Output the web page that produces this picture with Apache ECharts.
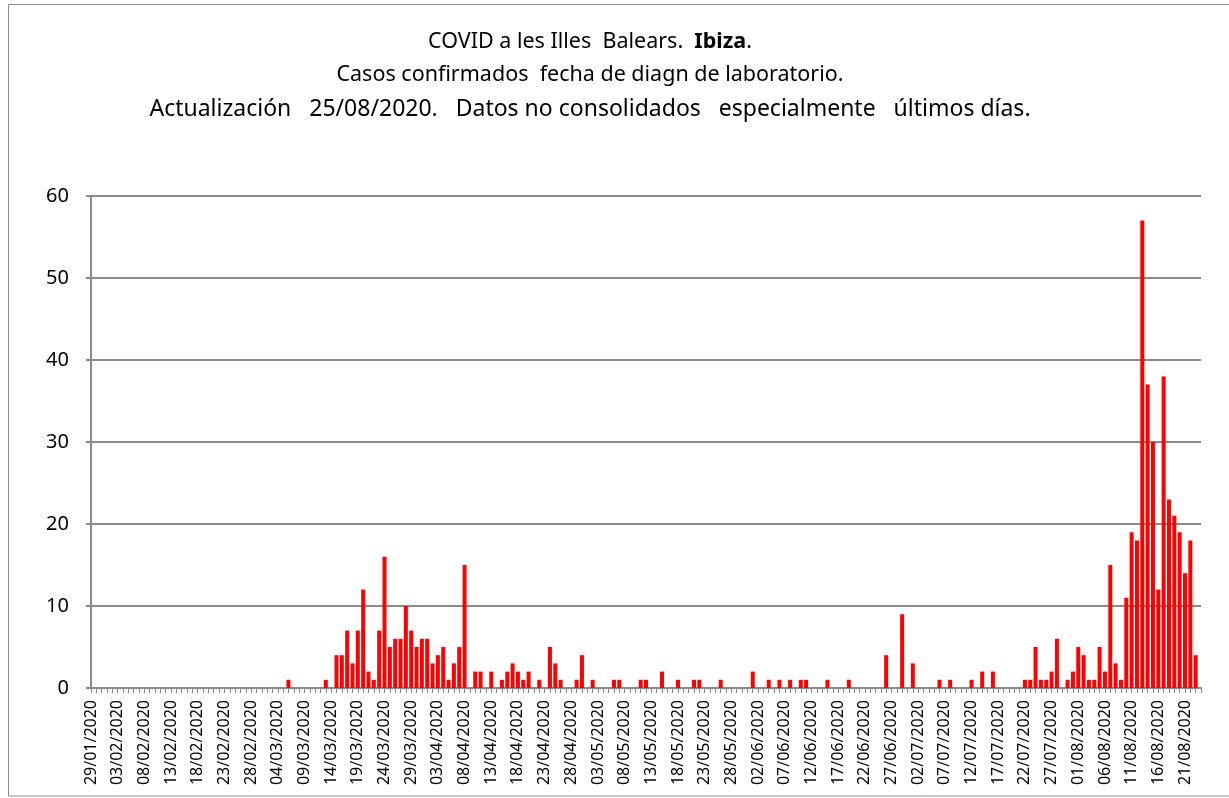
<!DOCTYPE html>
<html>
<head>
<meta charset="utf-8">
<script src="https://cdn.jsdelivr.net/npm/echarts@6/dist/echarts.min.js"></script>
<style>
html,body{margin:0;padding:0;background:#ffffff;}
#chart{width:1229px;height:798px;}
</style>
</head>
<body>
<div id="chart"></div>
<script>
// Daily confirmed cases (Ibiza)
const janCases = [0,0,0]; // 29/01 - 31/01
const febCases = [0,0,0,0,0,0,0,0,0,0, 0,0,0,0,0,0,0,0,0,0, 0,0,0,0,0,0,0,0,0];
const marCases = [0,0,0,0,0,1,0,0,0,0, 0,0,1,0,4,4,7,3,7,12, 2,1,7,16,5,6,6,10,7,5, 6];
const aprCases = [6,3,4,5,1,3,5,15,0,2, 2,0,2,0,1,2,3,2,1,2, 0,1,0,5,3,1,0,0,1,4];
const mayCases = [0,1,0,0,0,1,1,0,0,0, 1,1,0,0,2,0,0,1,0,0, 1,1,0,0,0,1,0,0,0,0, 0];
const junCases = [2,0,0,1,0,1,0,1,0,1, 1,0,0,0,1,0,0,0,1,0, 0,0,0,0,0,4,0,0,9,0];
const julCases = [3,0,0,0,0,1,0,1,0,0, 0,1,0,2,0,2,0,0,0,0, 0,1,1,5,1,1,2,6,0,1, 2];
const augCases = [5,4,1,1,5,2,15,3,1,11, 19,18,57,37,30,12,38,23,21,19, 14,18,4,0]; // 01/08 - 24/08

const monthBlocks = [
  {month: '01', firstDay: 29, cases: janCases},
  {month: '02', firstDay: 1, cases: febCases},
  {month: '03', firstDay: 1, cases: marCases},
  {month: '04', firstDay: 1, cases: aprCases},
  {month: '05', firstDay: 1, cases: mayCases},
  {month: '06', firstDay: 1, cases: junCases},
  {month: '07', firstDay: 1, cases: julCases},
  {month: '08', firstDay: 1, cases: augCases}
];

const yTicks = [0, 10, 20, 30, 40, 50, 60];

const titleLine1a = 'COVID a les Illes  Balears.  ';
const titleLine1b = 'Ibiza';
const titleLine2 = 'Casos confirmados  fecha de diagn de laboratorio.';
const titleLine3 = 'Actualización   25/08/2020.   Datos no consolidados   especialmente   últimos días.';

const dates = [];
const values = [];
monthBlocks.forEach(b => {
  b.cases.forEach((v, k) => {
    const d = b.firstDay + k;
    dates.push((d < 10 ? '0' + d : '' + d) + '/' + b.month + '/2020');
    values.push(v);
  });
});

const FONT = 'Noto Sans';
const GRAY = '#8a8a8a';

const chart = echarts.init(document.getElementById('chart'), null, {renderer: 'canvas'});
chart.setOption({
  animation: false,
  backgroundColor: '#ffffff',
  grid: {left: 91, right: 28, top: 196, bottom: 110, containLabel: false},
  graphic: [
    {type: 'rect', silent: true, z: -10,
     shape: {x: 8.5, y: 4.5, width: 1240, height: 791.5},
     style: {fill: 'none', stroke: '#8c8c8c', lineWidth: 1}},
    {type: 'text', x: 590, y: 42, silent: true,
     style: {text: '{n|' + titleLine1a + '}{b|' + titleLine1b + '}{n|.}',
             align: 'center', verticalAlign: 'middle',
             rich: {n: {fontFamily: FONT, fontSize: 21.5, fill: '#000', fontWeight: 'normal'},
                    b: {fontFamily: FONT, fontSize: 21.5, fill: '#000', fontWeight: 'bold'}}}},
    {type: 'text', x: 590, y: 75, silent: true,
     style: {text: titleLine2, align: 'center', verticalAlign: 'middle',
             fontFamily: FONT, fontSize: 21.5, fill: '#000'}},
    {type: 'text', x: 590, y: 109, silent: true,
     style: {text: titleLine3, align: 'center', verticalAlign: 'middle',
             fontFamily: FONT, fontSize: 23, fill: '#000'}}
  ],
  xAxis: {
    type: 'category',
    data: dates,
    boundaryGap: false,
    axisLine: {show: true, lineStyle: {color: GRAY, width: 2}},
    axisTick: {show: true, interval: 0, length: 5, lineStyle: {color: GRAY, width: 1}},
    axisLabel: {interval: 4, rotate: 90, margin: 12, fontFamily: FONT, fontSize: 16, color: '#000'},
    splitLine: {show: false}
  },
  yAxis: {
    type: 'value',
    min: yTicks[0],
    max: yTicks[yTicks.length - 1],
    interval: yTicks[1] - yTicks[0],
    axisLine: {show: true, lineStyle: {color: GRAY, width: 2}},
    axisTick: {show: true, length: 5, lineStyle: {color: GRAY, width: 2}},
    axisLabel: {margin: 22, fontFamily: FONT, fontSize: 20, color: '#000'},
    splitLine: {show: true, lineStyle: {color: GRAY, width: 2}}
  },
  series: [{
    type: 'bar',
    data: values,
    barWidth: 4,
    itemStyle: {color: '#ff0000'},
    clip: true
  }]
});
</script>
</body>
</html>
